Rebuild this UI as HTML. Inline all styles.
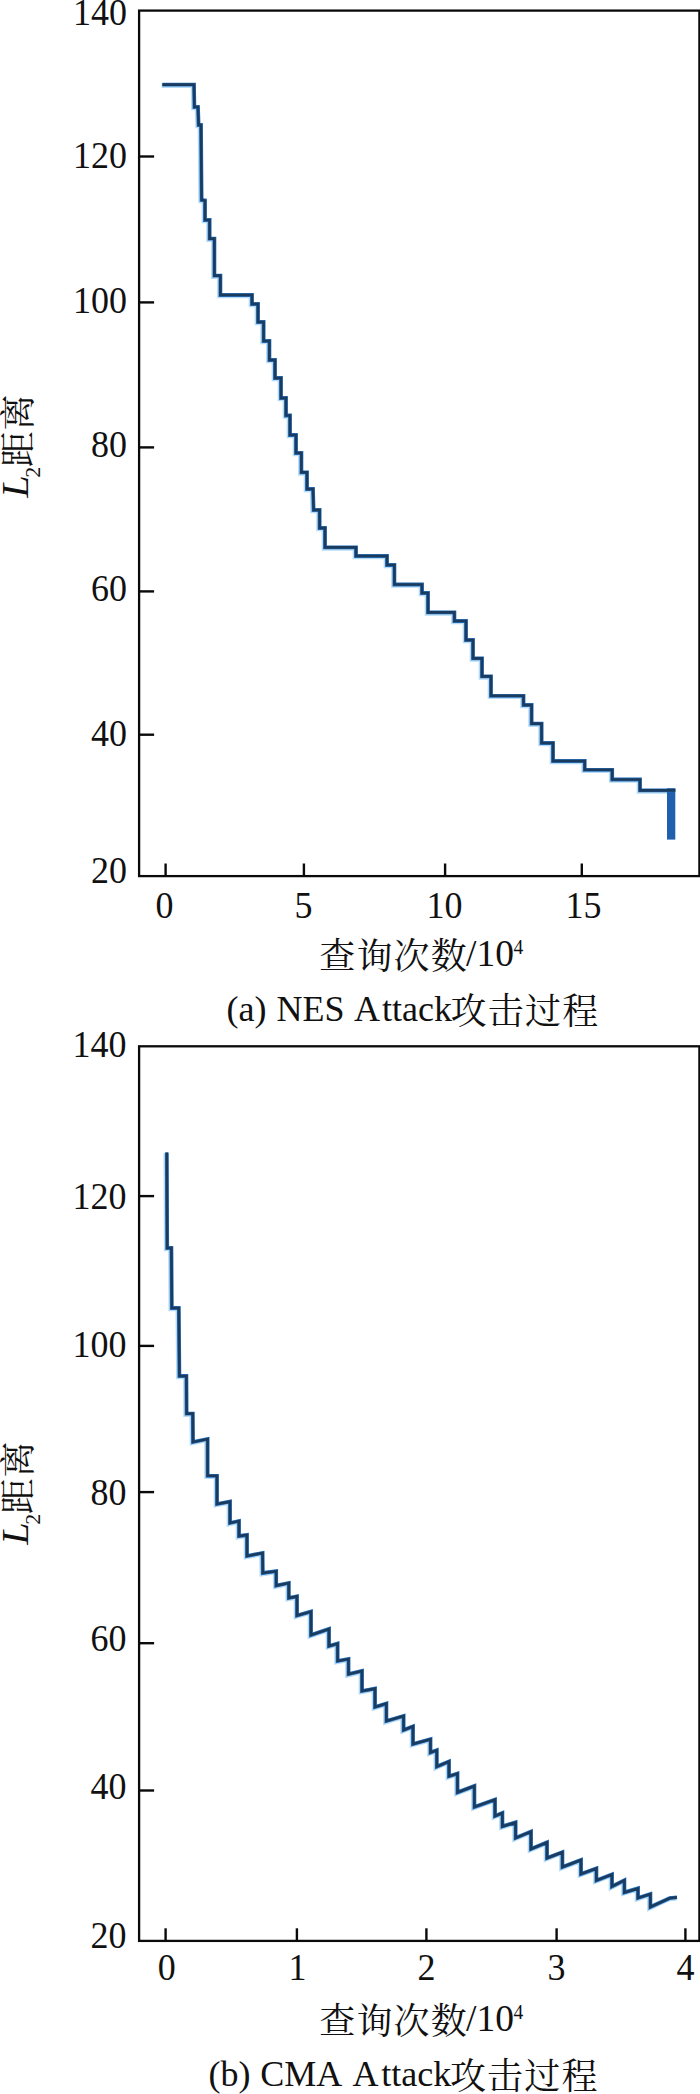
<!DOCTYPE html>
<html lang="zh"><head><meta charset="utf-8"><title>L2 distance vs queries</title>
<style>
html,body{margin:0;padding:0;background:#fff;}
body{width:700px;height:2094px;overflow:hidden;position:relative;}
svg{position:absolute;left:0;top:0;display:block;}
text{font-family:"Liberation Serif","Noto Serif CJK SC",serif;fill:#111;}
.cjk{font-family:"Liberation Serif","Noto Serif CJK SC",serif;}
.ax{stroke:#0a0a0a;stroke-width:2.3;fill:none;stroke-linecap:square;}
.tk{stroke:#0a0a0a;stroke-width:2.4;fill:none;}
.ln0{stroke:#9ccff3;stroke-width:5;fill:none;stroke-linejoin:miter;stroke-opacity:.75}
.ln1{stroke:#2b72bd;stroke-width:3.8;fill:none;stroke-linejoin:miter;}
.ln2{stroke:#1a3a5e;stroke-width:2.6;fill:none;stroke-linejoin:miter;}
</style></head><body>
<svg width="700" height="2094" viewBox="0 0 700 2094">
<rect class="ax" x="139.1" y="10.6" width="560.3" height="865.5"/>
<text transform="translate(127.0,25.4) scale(1,1.065)" font-size="36" text-anchor="end">140</text>
<line class="tk" x1="139.1" y1="156.5" x2="154.1" y2="156.5"/>
<text transform="translate(127.0,168.0) scale(1,1.065)" font-size="36" text-anchor="end">120</text>
<line class="tk" x1="139.1" y1="302.4" x2="154.1" y2="302.4"/>
<text transform="translate(127.0,312.6) scale(1,1.065)" font-size="36" text-anchor="end">100</text>
<line class="tk" x1="139.1" y1="447.4" x2="154.1" y2="447.4"/>
<text transform="translate(127.0,457.2) scale(1,1.065)" font-size="36" text-anchor="end">80</text>
<line class="tk" x1="139.1" y1="591.4" x2="154.1" y2="591.4"/>
<text transform="translate(127.0,601.4) scale(1,1.065)" font-size="36" text-anchor="end">60</text>
<line class="tk" x1="139.1" y1="734.7" x2="154.1" y2="734.7"/>
<text transform="translate(127.0,745.7) scale(1,1.065)" font-size="36" text-anchor="end">40</text>
<text transform="translate(127.0,883.3) scale(1,1.065)" font-size="36" text-anchor="end">20</text>
<line class="tk" x1="165.6" y1="876.1" x2="165.6" y2="863.5"/>
<text transform="translate(164.4,918.3) scale(1,1.065)" font-size="36" text-anchor="middle">0</text>
<line class="tk" x1="303.9" y1="876.1" x2="303.9" y2="863.5"/>
<text transform="translate(303.6,918.3) scale(1,1.065)" font-size="36" text-anchor="middle">5</text>
<line class="tk" x1="445.1" y1="876.1" x2="445.1" y2="863.5"/>
<text transform="translate(444.5,918.3) scale(1,1.065)" font-size="36" text-anchor="middle">10</text>
<line class="tk" x1="581.8" y1="876.1" x2="581.8" y2="863.5"/>
<text transform="translate(583.5,918.3) scale(1,1.065)" font-size="36" text-anchor="middle">15</text>
<path class="ln0" transform="translate(-0.8,0.8)" d="M162.4 84.6 L194.0 84.6 L194.4 107.0 L198.0 107.0 L198.6 125.0 L201.0 125.0 L201.6 200.0 L205.0 200.5 L205.0 220.0 L209.6 220.0 L209.6 238.6 L214.4 238.6 L214.4 275.6 L220.4 275.6 L220.4 295.0 L252.0 295.0 L252.0 304.0 L258.0 304.0 L258.0 322.0 L263.6 322.0 L263.6 341.0 L269.4 341.0 L269.4 360.0 L275.0 360.0 L275.0 378.0 L281.0 378.0 L281.0 398.0 L286.0 398.0 L286.0 415.5 L290.0 415.5 L290.0 435.0 L296.0 435.0 L296.0 453.0 L301.4 453.0 L301.4 472.4 L307.0 472.4 L307.0 489.0 L313.0 489.0 L313.6 510.0 L319.6 510.0 L319.6 528.0 L325.0 528.0 L325.0 547.4 L356.0 547.4 L356.0 556.0 L387.0 556.0 L387.0 565.0 L394.4 565.0 L394.4 584.5 L422.0 584.5 L422.0 593.0 L428.0 593.0 L428.0 612.4 L454.4 612.4 L454.4 621.0 L466.0 621.0 L466.0 640.0 L473.0 640.0 L473.0 658.4 L482.0 658.4 L482.0 676.4 L491.0 676.4 L491.0 695.8 L523.5 695.8 L523.5 705.0 L531.6 705.0 L531.6 723.6 L541.6 723.6 L541.6 743.0 L553.0 743.0 L553.0 761.0 L584.7 761.0 L584.7 769.8 L612.2 769.8 L612.2 779.5 L640.0 779.5 L640.0 790.4 L675.3 790.4"/>
<rect x="667" y="788.2" width="8.3" height="51.4" fill="#1f5fad"/>
<path class="ln1" d="M162.4 84.6 L194.0 84.6 L194.4 107.0 L198.0 107.0 L198.6 125.0 L201.0 125.0 L201.6 200.0 L205.0 200.5 L205.0 220.0 L209.6 220.0 L209.6 238.6 L214.4 238.6 L214.4 275.6 L220.4 275.6 L220.4 295.0 L252.0 295.0 L252.0 304.0 L258.0 304.0 L258.0 322.0 L263.6 322.0 L263.6 341.0 L269.4 341.0 L269.4 360.0 L275.0 360.0 L275.0 378.0 L281.0 378.0 L281.0 398.0 L286.0 398.0 L286.0 415.5 L290.0 415.5 L290.0 435.0 L296.0 435.0 L296.0 453.0 L301.4 453.0 L301.4 472.4 L307.0 472.4 L307.0 489.0 L313.0 489.0 L313.6 510.0 L319.6 510.0 L319.6 528.0 L325.0 528.0 L325.0 547.4 L356.0 547.4 L356.0 556.0 L387.0 556.0 L387.0 565.0 L394.4 565.0 L394.4 584.5 L422.0 584.5 L422.0 593.0 L428.0 593.0 L428.0 612.4 L454.4 612.4 L454.4 621.0 L466.0 621.0 L466.0 640.0 L473.0 640.0 L473.0 658.4 L482.0 658.4 L482.0 676.4 L491.0 676.4 L491.0 695.8 L523.5 695.8 L523.5 705.0 L531.6 705.0 L531.6 723.6 L541.6 723.6 L541.6 743.0 L553.0 743.0 L553.0 761.0 L584.7 761.0 L584.7 769.8 L612.2 769.8 L612.2 779.5 L640.0 779.5 L640.0 790.4 L675.3 790.4"/>
<path class="ln2" d="M162.4 84.6 L194.0 84.6 L194.4 107.0 L198.0 107.0 L198.6 125.0 L201.0 125.0 L201.6 200.0 L205.0 200.5 L205.0 220.0 L209.6 220.0 L209.6 238.6 L214.4 238.6 L214.4 275.6 L220.4 275.6 L220.4 295.0 L252.0 295.0 L252.0 304.0 L258.0 304.0 L258.0 322.0 L263.6 322.0 L263.6 341.0 L269.4 341.0 L269.4 360.0 L275.0 360.0 L275.0 378.0 L281.0 378.0 L281.0 398.0 L286.0 398.0 L286.0 415.5 L290.0 415.5 L290.0 435.0 L296.0 435.0 L296.0 453.0 L301.4 453.0 L301.4 472.4 L307.0 472.4 L307.0 489.0 L313.0 489.0 L313.6 510.0 L319.6 510.0 L319.6 528.0 L325.0 528.0 L325.0 547.4 L356.0 547.4 L356.0 556.0 L387.0 556.0 L387.0 565.0 L394.4 565.0 L394.4 584.5 L422.0 584.5 L422.0 593.0 L428.0 593.0 L428.0 612.4 L454.4 612.4 L454.4 621.0 L466.0 621.0 L466.0 640.0 L473.0 640.0 L473.0 658.4 L482.0 658.4 L482.0 676.4 L491.0 676.4 L491.0 695.8 L523.5 695.8 L523.5 705.0 L531.6 705.0 L531.6 723.6 L541.6 723.6 L541.6 743.0 L553.0 743.0 L553.0 761.0 L584.7 761.0 L584.7 769.8 L612.2 769.8 L612.2 779.5 L640.0 779.5 L640.0 790.4 L675.3 790.4"/>
<g transform="translate(28.8,498.5) rotate(-90)"><text transform="scale(1.12,1.065)" x="0.7" y="-0.3" font-size="36" font-style="italic">L</text><text x="20.8" y="11.4" font-size="22" transform="scale(1,1)">2</text><text x="31.3" y="1.9" font-size="36" letter-spacing="0.8" class="cjk">距离</text></g>
<text x="319.2" y="968.6" font-size="36" letter-spacing="1.2" class="cjk">查询次数</text>
<text transform="translate(466.0,965.8) scale(1,1.000)" font-size="37.5" text-anchor="start">/10</text>
<text transform="translate(513.5,954.2) scale(1,1.065)" font-size="19.5" text-anchor="start">4</text>
<text y="1021.3" font-size="36"><tspan x="226.5">(a) </tspan><tspan x="276.5">NES </tspan><tspan x="353.9">A</tspan><tspan x="382.0">ttack</tspan><tspan x="450.6" dy="3" letter-spacing="1.2" class="cjk">攻击过程</tspan></text>
<rect class="ax" x="139.1" y="1046.3" width="560.3" height="894.6"/>
<text transform="translate(126.6,1057.1) scale(1,1.065)" font-size="36" text-anchor="end">140</text>
<line class="tk" x1="139.1" y1="1196.1" x2="154.1" y2="1196.1"/>
<text transform="translate(126.6,1209.0) scale(1,1.065)" font-size="36" text-anchor="end">120</text>
<line class="tk" x1="139.1" y1="1345.9" x2="154.1" y2="1345.9"/>
<text transform="translate(126.6,1357.1) scale(1,1.065)" font-size="36" text-anchor="end">100</text>
<line class="tk" x1="139.1" y1="1492.1" x2="154.1" y2="1492.1"/>
<text transform="translate(126.6,1504.7) scale(1,1.065)" font-size="36" text-anchor="end">80</text>
<line class="tk" x1="139.1" y1="1643.2" x2="154.1" y2="1643.2"/>
<text transform="translate(126.6,1651.4) scale(1,1.065)" font-size="36" text-anchor="end">60</text>
<line class="tk" x1="139.1" y1="1790.5" x2="154.1" y2="1790.5"/>
<text transform="translate(126.6,1799.4) scale(1,1.065)" font-size="36" text-anchor="end">40</text>
<text transform="translate(126.6,1947.6) scale(1,1.065)" font-size="36" text-anchor="end">20</text>
<line class="tk" x1="165.6" y1="1940.9" x2="165.6" y2="1928.3"/>
<text transform="translate(166.8,1980.4) scale(1,1.065)" font-size="36" text-anchor="middle">0</text>
<line class="tk" x1="296.9" y1="1940.9" x2="296.9" y2="1928.3"/>
<text transform="translate(297.4,1980.4) scale(1,1.065)" font-size="36" text-anchor="middle">1</text>
<line class="tk" x1="426.4" y1="1940.9" x2="426.4" y2="1928.3"/>
<text transform="translate(426.4,1980.4) scale(1,1.065)" font-size="36" text-anchor="middle">2</text>
<line class="tk" x1="556.6" y1="1940.9" x2="556.6" y2="1928.3"/>
<text transform="translate(556.6,1980.4) scale(1,1.065)" font-size="36" text-anchor="middle">3</text>
<line class="tk" x1="685.4" y1="1940.9" x2="685.4" y2="1928.3"/>
<text transform="translate(685.4,1980.4) scale(1,1.065)" font-size="36" text-anchor="middle">4</text>
<path class="ln0" transform="translate(-0.8,0.8)" d="M166.8 1152.4 L167.2 1248.0 L171.4 1248.0 L171.8 1308.0 L178.8 1308.0 L179.4 1376.0 L186.4 1376.0 L186.6 1413.6 L192.8 1413.6 L193.0 1442.0 L207.6 1439.0 L207.6 1475.8 L217.0 1475.8 L217.0 1504.0 L230.0 1501.6 L230.0 1523.0 L239.0 1521.0 L239.0 1536.0 L247.0 1535.0 L247.0 1556.0 L262.6 1553.0 L262.8 1573.0 L276.2 1571.2 L276.2 1585.6 L288.8 1583.0 L288.8 1598.0 L297.0 1596.4 L297.0 1615.6 L311.0 1611.6 L311.0 1635.0 L329.0 1629.0 L329.0 1646.0 L337.6 1643.6 L337.6 1661.0 L348.5 1659.0 L348.5 1674.2 L362.0 1671.0 L362.0 1691.0 L375.0 1688.6 L375.0 1707.0 L386.4 1703.6 L386.4 1721.0 L403.6 1716.0 L403.6 1730.0 L413.0 1726.4 L413.0 1744.0 L430.5 1739.2 L430.5 1752.5 L436.8 1750.3 L436.8 1766.6 L449.0 1761.5 L449.0 1776.2 L457.5 1773.6 L457.5 1792.4 L474.4 1786.0 L474.4 1807.0 L495.0 1799.6 L495.0 1816.0 L502.4 1813.0 L502.4 1826.4 L515.6 1822.4 L515.6 1838.0 L531.0 1831.6 L531.0 1849.0 L547.0 1842.4 L547.0 1858.0 L562.4 1852.2 L562.4 1867.0 L581.0 1860.0 L581.0 1874.0 L596.4 1868.4 L596.4 1880.4 L612.0 1874.4 L612.0 1886.4 L624.4 1880.4 L624.4 1892.4 L638.0 1888.4 L638.0 1898.0 L650.4 1894.0 L650.4 1907.0 L670.0 1898.0 L677.0 1897.4"/>
<path class="ln1" d="M166.8 1152.4 L167.2 1248.0 L171.4 1248.0 L171.8 1308.0 L178.8 1308.0 L179.4 1376.0 L186.4 1376.0 L186.6 1413.6 L192.8 1413.6 L193.0 1442.0 L207.6 1439.0 L207.6 1475.8 L217.0 1475.8 L217.0 1504.0 L230.0 1501.6 L230.0 1523.0 L239.0 1521.0 L239.0 1536.0 L247.0 1535.0 L247.0 1556.0 L262.6 1553.0 L262.8 1573.0 L276.2 1571.2 L276.2 1585.6 L288.8 1583.0 L288.8 1598.0 L297.0 1596.4 L297.0 1615.6 L311.0 1611.6 L311.0 1635.0 L329.0 1629.0 L329.0 1646.0 L337.6 1643.6 L337.6 1661.0 L348.5 1659.0 L348.5 1674.2 L362.0 1671.0 L362.0 1691.0 L375.0 1688.6 L375.0 1707.0 L386.4 1703.6 L386.4 1721.0 L403.6 1716.0 L403.6 1730.0 L413.0 1726.4 L413.0 1744.0 L430.5 1739.2 L430.5 1752.5 L436.8 1750.3 L436.8 1766.6 L449.0 1761.5 L449.0 1776.2 L457.5 1773.6 L457.5 1792.4 L474.4 1786.0 L474.4 1807.0 L495.0 1799.6 L495.0 1816.0 L502.4 1813.0 L502.4 1826.4 L515.6 1822.4 L515.6 1838.0 L531.0 1831.6 L531.0 1849.0 L547.0 1842.4 L547.0 1858.0 L562.4 1852.2 L562.4 1867.0 L581.0 1860.0 L581.0 1874.0 L596.4 1868.4 L596.4 1880.4 L612.0 1874.4 L612.0 1886.4 L624.4 1880.4 L624.4 1892.4 L638.0 1888.4 L638.0 1898.0 L650.4 1894.0 L650.4 1907.0 L670.0 1898.0 L677.0 1897.4"/>
<path class="ln2" d="M166.8 1152.4 L167.2 1248.0 L171.4 1248.0 L171.8 1308.0 L178.8 1308.0 L179.4 1376.0 L186.4 1376.0 L186.6 1413.6 L192.8 1413.6 L193.0 1442.0 L207.6 1439.0 L207.6 1475.8 L217.0 1475.8 L217.0 1504.0 L230.0 1501.6 L230.0 1523.0 L239.0 1521.0 L239.0 1536.0 L247.0 1535.0 L247.0 1556.0 L262.6 1553.0 L262.8 1573.0 L276.2 1571.2 L276.2 1585.6 L288.8 1583.0 L288.8 1598.0 L297.0 1596.4 L297.0 1615.6 L311.0 1611.6 L311.0 1635.0 L329.0 1629.0 L329.0 1646.0 L337.6 1643.6 L337.6 1661.0 L348.5 1659.0 L348.5 1674.2 L362.0 1671.0 L362.0 1691.0 L375.0 1688.6 L375.0 1707.0 L386.4 1703.6 L386.4 1721.0 L403.6 1716.0 L403.6 1730.0 L413.0 1726.4 L413.0 1744.0 L430.5 1739.2 L430.5 1752.5 L436.8 1750.3 L436.8 1766.6 L449.0 1761.5 L449.0 1776.2 L457.5 1773.6 L457.5 1792.4 L474.4 1786.0 L474.4 1807.0 L495.0 1799.6 L495.0 1816.0 L502.4 1813.0 L502.4 1826.4 L515.6 1822.4 L515.6 1838.0 L531.0 1831.6 L531.0 1849.0 L547.0 1842.4 L547.0 1858.0 L562.4 1852.2 L562.4 1867.0 L581.0 1860.0 L581.0 1874.0 L596.4 1868.4 L596.4 1880.4 L612.0 1874.4 L612.0 1886.4 L624.4 1880.4 L624.4 1892.4 L638.0 1888.4 L638.0 1898.0 L650.4 1894.0 L650.4 1907.0 L670.0 1898.0 L677.0 1897.4"/>
<g transform="translate(28.8,1545.5) rotate(-90)"><text transform="scale(1.12,1.065)" x="0.7" y="-0.3" font-size="36" font-style="italic">L</text><text x="20.8" y="11.4" font-size="22" transform="scale(1,1)">2</text><text x="31.3" y="1.9" font-size="36" letter-spacing="0.8" class="cjk">距离</text></g>
<text x="319.2" y="2033.6" font-size="36" letter-spacing="1.2" class="cjk">查询次数</text>
<text transform="translate(466.0,2030.8) scale(1,1.000)" font-size="37.5" text-anchor="start">/10</text>
<text transform="translate(513.5,2019.2) scale(1,1.065)" font-size="19.5" text-anchor="start">4</text>
<text y="2086.0" font-size="36"><tspan x="208.4">(b) </tspan><tspan x="260.3">CMA </tspan><tspan x="352.6">A</tspan><tspan x="381.3">ttack</tspan><tspan x="449.9" dy="3" letter-spacing="1.2" class="cjk">攻击过程</tspan></text>
</svg>
</body></html>
